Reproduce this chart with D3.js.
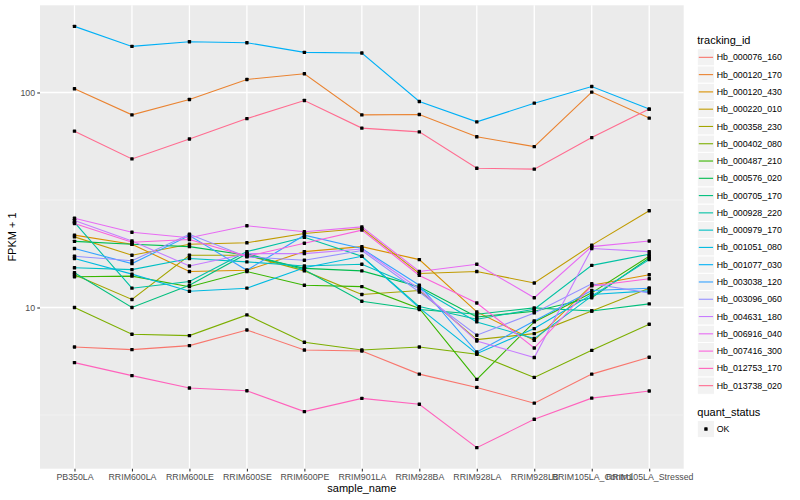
<!DOCTYPE html>
<html>
<head>
<meta charset="utf-8">
<script src="https://cdn.jsdelivr.net/npm/d3@7/dist/d3.min.js"></script>
<style>
  body { margin: 0; background: #ffffff; }
  text { font-family: "Liberation Sans", Arial, Helvetica, sans-serif; }
</style>
</head>
<body>
<svg id="chart" width="800" height="500"></svg>
<script>
// ---------- data ----------
const samples = ["PB350LA", "RRIM600LA", "RRIM600LE", "RRIM600SE", "RRIM600PE", "RRIM901LA",
  "RRIM928BA", "RRIM928LA", "RRIM928LB", "RRIM105LA_Control", "RRIM105LA_Stressed"];

const trackingIds = ["Hb_000076_160", "Hb_000120_170", "Hb_000120_430", "Hb_000220_010", "Hb_000358_230",
  "Hb_000402_080", "Hb_000487_210", "Hb_000576_020", "Hb_000705_170", "Hb_000928_220",
  "Hb_000979_170", "Hb_001051_080", "Hb_001077_030", "Hb_003038_120", "Hb_003096_060",
  "Hb_004631_180", "Hb_006916_040", "Hb_007416_300", "Hb_012753_170", "Hb_013738_020"];

const seriesColors = ["#F8766D", "#EA8331", "#D89000", "#C09B00", "#A3A500", "#7CAE00", "#39B600",
  "#00BB4E", "#00BF7D", "#00C1A3", "#00BFC4", "#00BAE0", "#00B0F6", "#35A2FF", "#9590FF",
  "#C77CFF", "#E76BF3", "#FA62DB", "#FF62BC", "#FF6C90"];

const yTickValues = [10, 100];
const yTickLabels = ["10", "100"];
const quantStatus = ["OK"];

// FPKM + 1 per sample (same order as samples)
const Hb_000076_160 = [6.55, 6.37, 6.65, 7.86, 6.34, 6.28, 4.90, 4.25, 3.59, 4.90, 5.87];
const Hb_000120_170 = [104.0, 78.7, 92.8, 115.0, 122.2, 78.7, 79.0, 62.2, 56.0, 100.4, 76.0];
const Hb_000120_430 = [21.7, 19.7, 14.7, 14.9, 18.2, 19.2, 16.7, 9.54, 7.04, 12.7, 14.2];
const Hb_000220_010 = [21.3, 17.5, 19.7, 20.0, 22.1, 23.3, 14.4, 14.7, 13.0, 19.5, 28.2];
const Hb_000358_230 = [14.2, 10.9, 17.5, 17.5, 14.8, 11.5, 12.0, 7.09, 7.56, 9.64, 12.3];
const Hb_000402_080 = [10.0, 7.51, 7.40, 9.24, 6.89, 6.34, 6.55, 6.06, 4.73, 6.32, 8.36];
const Hb_000487_210 = [13.9, 14.0, 12.5, 14.7, 12.7, 12.5, 9.9, 4.63, 8.57, 11.7, 17.3];
const Hb_000576_020 = [20.3, 19.7, 19.2, 17.5, 15.2, 14.8, 12.5, 9.04, 9.61, 11.1, 17.0];
const Hb_000705_170 = [14.5, 10.0, 12.7, 17.8, 15.0, 10.7, 9.79, 9.31, 9.96, 9.64, 10.4];
const Hb_000928_220 = [24.9, 12.3, 13.2, 18.2, 21.2, 17.3, 10.1, 8.82, 9.82, 15.7, 17.7];
const Hb_000979_170 = [15.3, 15.0, 16.9, 16.3, 15.6, 15.9, 12.3, 8.57, 7.17, 11.3, 16.7];
const Hb_001051_080 = [16.9, 14.3, 11.9, 12.3, 15.3, 17.3, 9.96, 6.10, 7.98, 11.5, 11.95];
const Hb_001077_030 = [203.0, 163.8, 172.3, 170.4, 153.6, 152.6, 90.8, 73.0, 89.2, 106.6, 83.7];
const Hb_003038_120 = [18.8, 16.0, 21.6, 14.9, 21.7, 18.8, 12.7, 6.21, 8.66, 12.0, 12.3];
const Hb_003096_060 = [17.3, 16.5, 21.9, 17.2, 16.6, 18.4, 11.8, 7.43, 9.44, 12.9, 11.7];
const Hb_004631_180 = [25.4, 20.4, 15.6, 17.8, 17.8, 18.7, 12.2, 6.99, 5.85, 18.8, 18.2];
const Hb_006916_040 = [26.0, 22.4, 21.1, 24.0, 22.5, 23.7, 14.7, 15.9, 11.1, 19.2, 20.4];
const Hb_007416_300 = [24.6, 20.1, 20.7, 17.3, 19.9, 22.9, 14.1, 10.5, 6.48, 12.6, 13.6];
const Hb_012753_170 = [5.54, 4.82, 4.22, 4.10, 3.28, 3.78, 3.55, 2.23, 3.02, 3.79, 4.09];
const Hb_013738_020 = [66.1, 49.1, 60.8, 75.6, 91.8, 68.3, 65.6, 44.4, 44.0, 61.7, 83.7];

const seriesValues = [Hb_000076_160, Hb_000120_170, Hb_000120_430, Hb_000220_010, Hb_000358_230,
  Hb_000402_080, Hb_000487_210, Hb_000576_020, Hb_000705_170, Hb_000928_220,
  Hb_000979_170, Hb_001051_080, Hb_001077_030, Hb_003038_120, Hb_003096_060,
  Hb_004631_180, Hb_006916_040, Hb_007416_300, Hb_012753_170, Hb_013738_020];

// ---------- layout ----------
const svg = d3.select("#chart");
const panel = { left: 40, right: 683.7, top: 5.3, bottom: 468.7 };

const series = trackingIds.map((id, i) => ({
  id, color: seriesColors[i],
  points: samples.map((s, j) => ({ sample: s, value: seriesValues[i][j] }))
}));

const allVals = seriesValues.flat();
const lmin = Math.log10(d3.min(allVals)), lmax = Math.log10(d3.max(allVals));
const pad = (lmax - lmin) * 0.05;

const x = d3.scalePoint().domain(samples).range([panel.left, panel.right]).padding(0.6);
const y = d3.scaleLog().domain([Math.pow(10, lmin - pad), Math.pow(10, lmax + pad)])
  .range([panel.bottom, panel.top]);

// panel background
svg.append("rect")
  .attr("x", panel.left).attr("y", panel.top)
  .attr("width", panel.right - panel.left).attr("height", panel.bottom - panel.top)
  .attr("fill", "#EBEBEB");

// minor grid (log midpoints)
const minorBreaks = [];
for (let e = Math.floor(lmin - pad) - 1; e <= Math.ceil(lmax + pad); e++) {
  const v = Math.pow(10, e + 0.5);
  const [d0, d1] = y.domain();
  if (v > d0 && v < d1) minorBreaks.push(v);
}
svg.append("g").selectAll("line").data(minorBreaks).join("line")
  .attr("x1", panel.left).attr("x2", panel.right)
  .attr("y1", d => y(d)).attr("y2", d => y(d))
  .attr("stroke", "#F5F5F5").attr("stroke-width", 0.7);

// major grid
svg.append("g").selectAll("line").data(yTickValues).join("line")
  .attr("x1", panel.left).attr("x2", panel.right)
  .attr("y1", d => y(d)).attr("y2", d => y(d))
  .attr("stroke", "#FFFFFF").attr("stroke-width", 1.3);
svg.append("g").selectAll("line").data(samples).join("line")
  .attr("x1", d => x(d)).attr("x2", d => x(d))
  .attr("y1", panel.top).attr("y2", panel.bottom)
  .attr("stroke", "#FFFFFF").attr("stroke-width", 1.3);

// lines
const line = d3.line().x(d => x(d.sample)).y(d => y(d.value));
svg.append("g").selectAll("path").data(series).join("path")
  .attr("d", d => line(d.points))
  .attr("fill", "none")
  .attr("stroke", d => d.color)
  .attr("stroke-width", 1.1);

// points
const pts = series.flatMap(s => s.points);
svg.append("g").selectAll("rect").data(pts).join("rect")
  .attr("x", d => x(d.sample) - 1.7).attr("y", d => y(d.value) - 1.7)
  .attr("width", 3.4).attr("height", 3.4)
  .attr("rx", 0.6)
  .attr("fill", "#000000");

// axes
const yAxis = svg.append("g").attr("transform", `translate(${panel.left},0)`)
  .call(d3.axisLeft(y).tickValues(yTickValues).tickFormat((d, i) => yTickLabels[i])
    .tickSize(2.75).tickPadding(2.2));
yAxis.select(".domain").remove();
yAxis.selectAll("line").attr("stroke", "#333333").attr("stroke-width", 1.07);
yAxis.selectAll("text").attr("fill", "#4D4D4D").style("font-size", "8.8px")
  .style("font-family", '"Liberation Sans", Arial, sans-serif');

const xAxis = svg.append("g").attr("transform", `translate(0,${panel.bottom})`)
  .call(d3.axisBottom(x).tickSize(2.75).tickPadding(2.2));
xAxis.select(".domain").remove();
xAxis.selectAll("line").attr("stroke", "#333333").attr("stroke-width", 1.07);
xAxis.selectAll("text").attr("fill", "#4D4D4D").style("font-size", "8.8px")
  .style("font-family", '"Liberation Sans", Arial, sans-serif');

// axis titles
svg.append("text")
  .attr("x", (panel.left + panel.right) / 2).attr("y", 492)
  .attr("text-anchor", "middle").attr("fill", "#000").style("font-size", "11px")
  .text("sample_name");
svg.append("text")
  .attr("transform", `translate(16,${(panel.top + panel.bottom) / 2}) rotate(-90)`)
  .attr("text-anchor", "middle").attr("fill", "#000").style("font-size", "11px")
  .text("FPKM + 1");

// legend: tracking_id
const legX = 697.3, keyW = 17.28, keyH = 17.28;
svg.append("text").attr("x", legX).attr("y", 43.5)
  .attr("fill", "#000").style("font-size", "11px").text("tracking_id");
const lg = svg.append("g").selectAll("g").data(series).join("g")
  .attr("transform", (d, i) => `translate(${legX},${48.7 + i * keyH})`);
lg.append("rect").attr("width", keyW).attr("height", keyH)
  .attr("fill", "#F2F2F2").attr("stroke", "#FFFFFF").attr("stroke-width", 1);
lg.append("line").attr("x1", 1.5).attr("x2", keyW - 1.5)
  .attr("y1", keyH / 2).attr("y2", keyH / 2)
  .attr("stroke", d => d.color).attr("stroke-width", 1.1);
lg.append("text").attr("x", keyW + 2.2).attr("y", keyH / 2).attr("dy", "0.35em")
  .attr("fill", "#000").style("font-size", "8.8px").text(d => d.id);

// legend: quant_status
svg.append("text").attr("x", legX).attr("y", 416)
  .attr("fill", "#000").style("font-size", "11px").text("quant_status");
const qg = svg.append("g").selectAll("g").data(quantStatus).join("g")
  .attr("transform", (d, i) => `translate(${legX},${420.4 + i * keyH})`);
qg.append("rect").attr("width", keyW).attr("height", keyH)
  .attr("fill", "#F2F2F2").attr("stroke", "#FFFFFF").attr("stroke-width", 1);
qg.append("rect").attr("x", keyW / 2 - 1.7).attr("y", keyH / 2 - 1.7)
  .attr("width", 3.4).attr("height", 3.4).attr("rx", 0.6).attr("fill", "#000");
qg.append("text").attr("x", keyW + 2.2).attr("y", keyH / 2).attr("dy", "0.35em")
  .attr("fill", "#000").style("font-size", "8.8px").text(d => d);
</script>
</body>
</html>
